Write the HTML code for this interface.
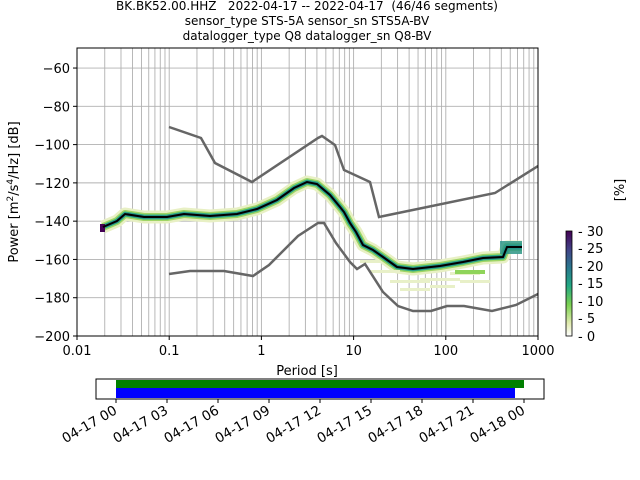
<!DOCTYPE html>
<html><head><meta charset="utf-8"><style>
body{margin:0;background:#fff}
svg{display:block;font-family:"DejaVu Sans","Liberation Sans",sans-serif}
</style></head><body>
<svg width="640" height="480" viewBox="0 0 640 480" xmlns="http://www.w3.org/2000/svg">
<defs>
<linearGradient id="cb" x1="0" y1="1" x2="0" y2="0">
<stop offset="0" stop-color="#ffffff"/>
<stop offset="0.12" stop-color="#e2ebb0"/>
<stop offset="0.3" stop-color="#7ad151"/>
<stop offset="0.48" stop-color="#22a884"/>
<stop offset="0.65" stop-color="#2a788e"/>
<stop offset="0.82" stop-color="#414487"/>
<stop offset="1" stop-color="#440154"/>
</linearGradient>
<clipPath id="pc"><rect x="77" y="48" width="461" height="288"/></clipPath>
</defs>
<g font-size="12" text-anchor="middle" fill="#000" style="white-space:pre">
<text x="307" y="10" xml:space="preserve">BK.BK52.00.HHZ   2022-04-17 -- 2022-04-17  (46/46 segments)</text>
<text x="307" y="25">sensor_type STS-5A sensor_sn STS5A-BV</text>
<text x="307" y="40">datalogger_type Q8 datalogger_sn Q8-BV</text>
</g>
<g stroke="#b0b0b0" stroke-width="0.9" id="grid"></g>
<g clip-path="url(#pc)">
<g id="hist"></g>
<polyline fill="none" stroke="#666" stroke-width="2.5" points="169,127 201,138 215,163 252,182 318,138 322,136 335,145 344,170 370,182 379,217 495,193 538,166"/>
<polyline fill="none" stroke="#666" stroke-width="2.5" points="169,274 190,271 224,271 253,276 269,265 298,236 318,223 324,223 336,243 350,262 357,269 365,264 383,292 398,306 413,311 431,311 447,306 464,306 492,311 516,305 538,294"/>
<polyline fill="none" stroke="#000" stroke-width="2" points="103,227 117,221 125,214 144,217 167,217 184,214 210,216 237,214 257,209 277,200 294,188 307,182 317,184 330,195 340,207 344,212 350,223 356,232 363,245 373,250 383,257 397,267 413,269 440,266 463,262 483,258 503,257 507,247 522,247"/>
</g>
<rect x="77" y="48" width="461" height="288" fill="none" stroke="#000" stroke-width="1"/>
<g font-size="13" fill="#000" id="ticks"></g>
<text x="307" y="375" font-size="13" text-anchor="middle">Period [s]</text>
<text transform="translate(18,192) rotate(-90)" font-size="13" text-anchor="middle">Power [m<tspan baseline-shift="super" font-size="9">2</tspan>/s<tspan baseline-shift="super" font-size="9">4</tspan>/Hz] [dB]</text>
<rect x="566" y="231" width="6" height="105" fill="url(#cb)" stroke="#000" stroke-width="0.8"/>
<g font-size="13" fill="#000">
<text x="578" y="236">- 30</text><text x="578" y="253">- 25</text><text x="578" y="271">- 20</text><text x="578" y="288">- 15</text><text x="578" y="306">- 10</text><text x="578" y="323">- 5</text><text x="578" y="341">- 0</text>
</g>
<text transform="translate(624,190) rotate(-90)" font-size="13" text-anchor="middle">[%]</text>
<rect x="96" y="379" width="448" height="20" fill="#fff" stroke="#000" stroke-width="1"/>
<rect x="116" y="380" width="408" height="8" fill="#008000"/>
<rect x="116" y="388" width="399" height="10" fill="#0000ff"/>
<g id="tl" font-size="13.5" fill="#000"></g>
<script>
const NS="http://www.w3.org/2000/svg";
function el(p,t,a,txt){const e=document.createElementNS(NS,t);for(const k in a)e.setAttribute(k,a[k]);if(txt!==undefined)e.textContent=txt;p.appendChild(e);return e;}
const X=p=>77+92.2*(Math.log10(p)+2), Y=d=>336-(d+200)*1.914;
const g=document.getElementById('grid');
for(let k=-2;k<3;k++)for(let m=1;m<10;m++){const x=X(m*Math.pow(10,k));if(x>77&&x<538)el(g,'line',{x1:x,y1:48,x2:x,y2:336});}
for(let d=-180;d<=-60;d+=20)el(g,'line',{x1:77,y1:Y(d),x2:538,y2:Y(d)});
const t=document.getElementById('ticks');
for(let d=-200;d<=-60;d+=20){const y=Y(d);el(t,'line',{x1:73,y1:y,x2:77,y2:y,stroke:'#000'});el(t,'text',{x:70,y:y+5,'text-anchor':'end'},'\u2212'+(-d));}
const xl=['0.01','0.1','1','10','100','1000'];
xl.forEach((s,i)=>{const x=77+92.2*i;el(t,'line',{x1:x,y1:336,x2:x,y2:340,stroke:'#000'});el(t,'text',{x:x,y:355,'text-anchor':'middle'},s);});
const h=document.getElementById('hist');
const pts=[[103,227],[117,221],[125,214],[144,217],[167,217],[184,214],[210,216],[237,214],[257,209],[277,200],[294,188],[307,182],[317,184],[330,195],[340,207],[344,212],[350,223],[356,232],[363,245],[373,250],[383,257],[397,267],[413,269],[440,266],[463,262],[483,258],[503,257],[507,247],[522,247]];
const pl=pts.map(p=>p.join(',')).join(' ');
el(h,'polyline',{points:pl,fill:'none',stroke:'#e8f0c4',"stroke-width":13,"stroke-linejoin":"round"});
el(h,'polyline',{points:pl,fill:'none',stroke:'#9fd565',"stroke-width":8,"stroke-linejoin":"round"});
el(h,'polyline',{points:pl,fill:'none',stroke:'#2fae80',"stroke-width":5,"stroke-linejoin":"round"});
el(h,'polyline',{points:pl,fill:'none',stroke:'#25838e',"stroke-width":3,"stroke-linejoin":"round"});
[[370,270,30],[390,280,40],[400,288,30],[420,278,40],[450,272,30],[430,285,25],[460,280,30],[360,260,20]].forEach(r=>el(h,'rect',{x:r[0],y:r[1],width:r[2],height:3,fill:'#e8f0c8'}));
el(h,'rect',{x:455,y:270,width:30,height:4,fill:'#8fd45a'});
el(h,'rect',{x:500,y:241,width:22,height:13,fill:'#24928a',opacity:0.8});
el(h,'rect',{x:100,y:224,width:5,height:8,fill:'#440154'});
const tl=document.getElementById('tl');
const labs=['04-17 00','04-17 03','04-17 06','04-17 09','04-17 12','04-17 15','04-17 18','04-17 21','04-18 00'];
labs.forEach((s,i)=>{const x=116+51*i;el(tl,'line',{x1:x,y1:399,x2:x,y2:403,stroke:'#000'});el(tl,'text',{transform:`translate(${x+2},${413}) rotate(-30)`,'text-anchor':'end'},s);});
</script>
</svg>
</body></html>
